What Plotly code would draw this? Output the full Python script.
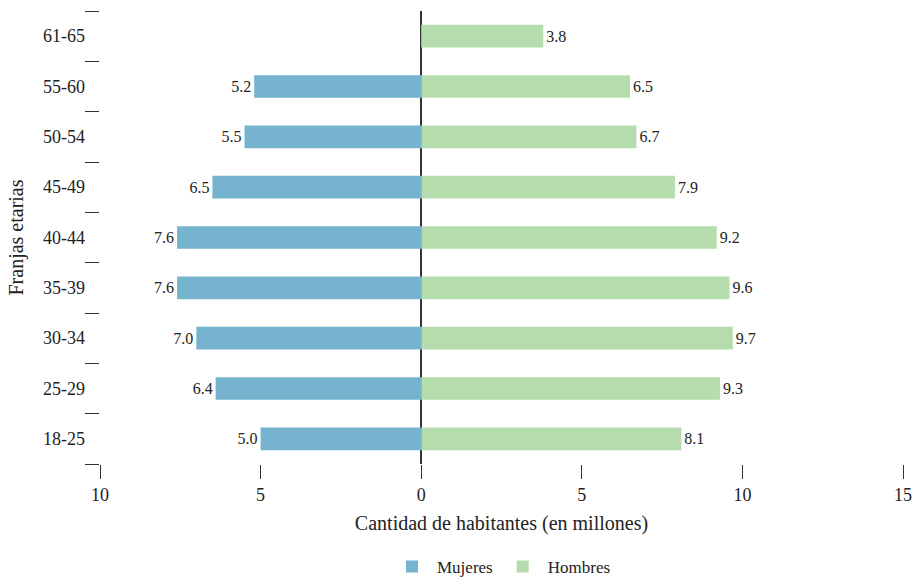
import plotly.graph_objects as go

# Age bands (bottom to top) and population in millions
franjas = ["18-25", "25-29", "30-34", "35-39", "40-44", "45-49", "50-54", "55-60", "61-65"]
mujeres = [5.0, 6.4, 7.0, 7.6, 7.6, 6.5, 5.5, 5.2, None]
hombres = [8.1, 9.3, 9.7, 9.6, 9.2, 7.9, 6.7, 6.5, 3.8]

x_tickvals = [-10, -5, 0, 5, 10, 15]
x_ticktext = ["10", "5", "0", "5", "10", "15"]

FONT = "Palatino Linotype, Book Antiqua, Palatino, Liberation Serif, serif"
COLOR_MUJERES = "#76b3cf"
COLOR_HOMBRES = "#b5dcac"
TEXT_COLOR = "#222"


def fmt(v):
    return "" if v is None else f"{v:.1f}"


fig = go.Figure()
fig.add_trace(go.Bar(
    y=franjas,
    x=[None if v is None else -v for v in mujeres],
    orientation="h",
    name="Mujeres",
    marker=dict(color=COLOR_MUJERES, line=dict(width=0)),
    text=[fmt(v) for v in mujeres],
    textposition="outside",
    textfont=dict(family=FONT, size=16, color=TEXT_COLOR),
    cliponaxis=False,
))
fig.add_trace(go.Bar(
    y=franjas,
    x=hombres,
    orientation="h",
    name="Hombres",
    marker=dict(color=COLOR_HOMBRES, line=dict(width=0)),
    text=[fmt(v) for v in hombres],
    textposition="outside",
    textfont=dict(family=FONT, size=16, color=TEXT_COLOR),
    cliponaxis=False,
))

fig.update_layout(
    width=916,
    height=577,
    barmode="relative",
    bargap=0.55,
    plot_bgcolor="white",
    paper_bgcolor="white",
    font=dict(family=FONT, size=18, color=TEXT_COLOR),
    margin=dict(l=100, r=13, t=11, b=113, autoexpand=False),
    showlegend=True,
    legend=dict(
        orientation="h",
        x=0.5, xanchor="center",
        y=-0.227, yanchor="middle",
        font=dict(family=FONT, size=17, color=TEXT_COLOR),
        traceorder="normal",
        itemwidth=40,
    ),
    xaxis=dict(
        range=[-10, 15],
        tickvals=x_tickvals,
        ticktext=x_ticktext,
        ticks="outside",
        ticklen=14,
        tickcolor="#333",
        tickwidth=1,
        showgrid=False,
        showline=False,
        zeroline=True,
        zerolinecolor="#333",
        zerolinewidth=1.5,
        automargin=False,
        tickfont=dict(family=FONT, size=18, color=TEXT_COLOR),
        title=dict(text="Cantidad de habitantes (en millones)",
                   font=dict(family=FONT, size=20, color=TEXT_COLOR), standoff=12),
    ),
    yaxis=dict(
        type="category",
        categoryorder="array",
        categoryarray=franjas,
        tickson="boundaries",
        ticks="outside",
        ticklen=14,
        tickcolor="#333",
        tickwidth=1,
        ticklabelstandoff=14,
        showgrid=False,
        showline=False,
        zeroline=False,
        automargin=False,
        tickfont=dict(family=FONT, size=18, color=TEXT_COLOR),
        title=dict(text="Franjas etarias",
                   font=dict(family=FONT, size=20, color=TEXT_COLOR), standoff=14),
    ),
)

fig.write_html("out.html")
